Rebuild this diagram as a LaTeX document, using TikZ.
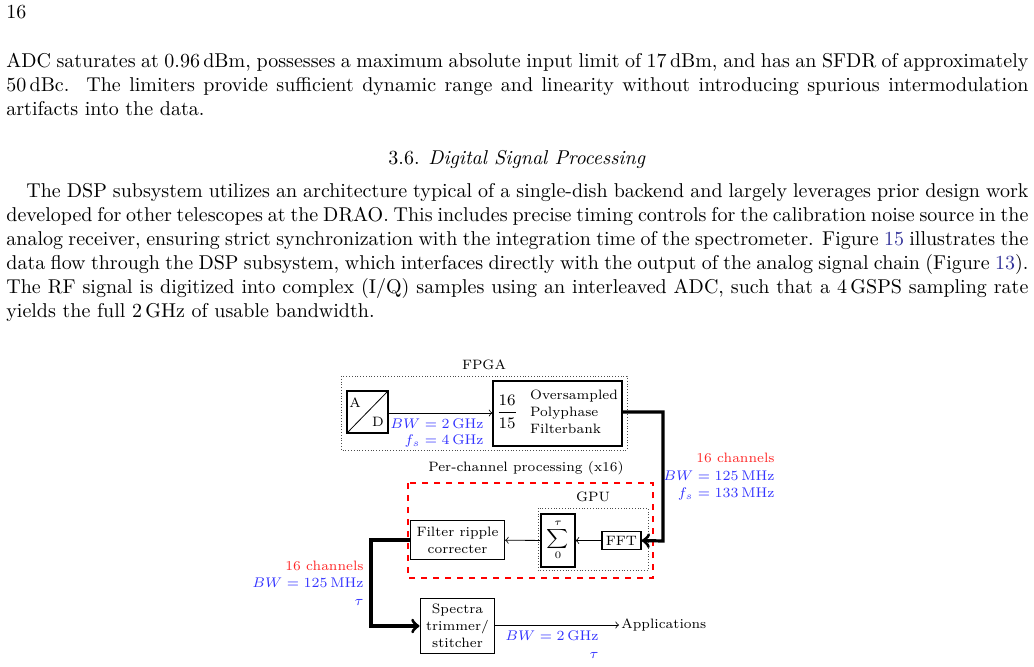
\documentclass[tikz,border=0pt]{standalone}
\usepackage{amsmath}
\usetikzlibrary{positioning,calc}
\definecolor{linkblue}{rgb}{0.2,0.2,0.6}
\tikzset{
  blk/.style={draw=black, semithick, align=center, inner sep=3pt},
  grp/.style={draw=black!70, densely dotted},
  bluelbl/.style={text=blue!80, anchor=east, inner sep=0pt},
  sig/.style={->, thin},
  bus/.style={->, ultra thick},
}
\begin{document}
\begin{tikzpicture}[x=0.5pt, y=-0.5pt, font=\fontsize{10}{12}\selectfont]
    \useasboundingbox (0,0) rectangle (1034,666);

    % page text
    \node[anchor=west, inner sep=0pt] (pgno) at (6,12) {16};
    \node[anchor=north west, inner sep=0pt, text width=511pt, align=justify] (parA) at (6,53)
      {ADC saturates at 0.96\,dBm, possesses a maximum absolute input limit of 17\,dBm, and has an SFDR of approximately\linebreak
       50\,dBc.\ \ The limiters provide sufficient dynamic range and linearity without introducing spurious intermodulation\linebreak
       artifacts into the data.};
    \node[inner sep=0pt] (sec) at (517,159) {3.6. \textit{Digital Signal Processing}};
    \node[anchor=north west, inner sep=0pt, text width=511pt, align=justify] (parB) at (6,183)
      {\hspace*{10pt}The DSP subsystem utilizes an architecture typical of a single-dish backend and largely leverages prior design work\linebreak
       developed for other telescopes at the DRAO. This includes precise timing controls for the calibration noise source in the\linebreak
       analog receiver, ensuring strict synchronization with the integration time of the spectrometer. Figure \textcolor{linkblue}{15} illustrates the\linebreak
       data flow through the DSP subsystem, which interfaces directly with the output of the analog signal chain (Figure \textcolor{linkblue}{13}).\linebreak
       The RF signal is digitized into complex (I/Q) samples using an interleaved ADC, such that a 4\,GSPS sampling rate\linebreak
       yields the full 2\,GHz of usable bandwidth.};

    \begin{scope}[font=\fontsize{6.8}{8.4}\selectfont]
    % FPGA
    \draw[grp] (341,376) rectangle (627,450);
    \node (fpga) at (484,365) {FPGA};
    \draw[semithick] (347,391) rectangle (388,433);
    \draw (347,433) -- (388,391);
    \node (adcA) at (355,403) {A};
    \node (adcD) at (378,422) {D};
    \coordinate (adc) at (388,413);
    \node[blk, minimum width=64.5pt, minimum height=32.5pt] (pfb) at (557.5,413.5) {};
    \node (frac) at (507,412) {\fontsize{7.6}{9}\selectfont$\dfrac{16}{15}$};
    \node[align=left] (pfbtxt) at (574,412) {Oversampled\\Polyphase\\Filterbank};
    \draw[sig] (adc) -- (pfb.west |- adc);
    \node[bluelbl] (bw1) at (484,424) {$BW = 2\,\mathrm{GHz}$};
    \node[bluelbl] (fs1) at (484,441) {$f_s = 4\,\mathrm{GHz}$};

    % per-channel
    \node (perch) at (526,468) {Per-channel processing (x16)};
    \draw[red, dashed, semithick] (408,483) rectangle (653,578);
    \node (gpu) at (593,497) {GPU};
    \draw[grp] (538,508) rectangle (648,570);
    \node[blk, minimum width=17pt, minimum height=26.5pt] (sum) at (558,540.5) {};
    \node[inner sep=0pt] (sumsym) at (558,540) {$\displaystyle\sum_{0}^{\tau}$};
    \node[blk, inner sep=2pt] (fft) at (621.5,540.5) {FFT};
    \node[blk] (ripple) at (457.5,540) {Filter ripple\\correcter};
    \draw[sig] (fft) -- (sum);
    \draw[sig] (sum) -- (ripple);
    \draw[bus] (pfb.east |- 0,412) -| (663,541) -- (fft.east);
    \node[anchor=east, inner sep=0pt, text=red!85] (ch1) at (775,458) {16 channels};
    \node[bluelbl] (bw2) at (775,476) {$BW = 125\,\mathrm{MHz}$};
    \node[bluelbl] (fs2) at (775,494) {$f_s = 133\,\mathrm{MHz}$};

    % output
    \node[blk] (trim) at (457.5,626) {Spectra\\trimmer/\\stitcher};
    \draw[bus] (ripple.west) -| (371,626) -- (trim.west);
    \node[anchor=east, inner sep=0pt, text=red!85] (ch2) at (364,566) {16 channels};
    \node[bluelbl] (bw3) at (364,583) {$BW = 125\,\mathrm{MHz}$};
    \node[bluelbl] (tau1) at (364,602) {$\tau$};
    \node[anchor=west, inner sep=1pt] (apps) at (619,625) {Applications};
    \draw[sig] (trim.east |- apps) -- (apps);
    \node[bluelbl] (bw4) at (599,636) {$BW = 2\,\mathrm{GHz}$};
    \node[bluelbl] (tau2) at (599,655) {$\tau$};
    \end{scope}
\end{tikzpicture}
\end{document}
